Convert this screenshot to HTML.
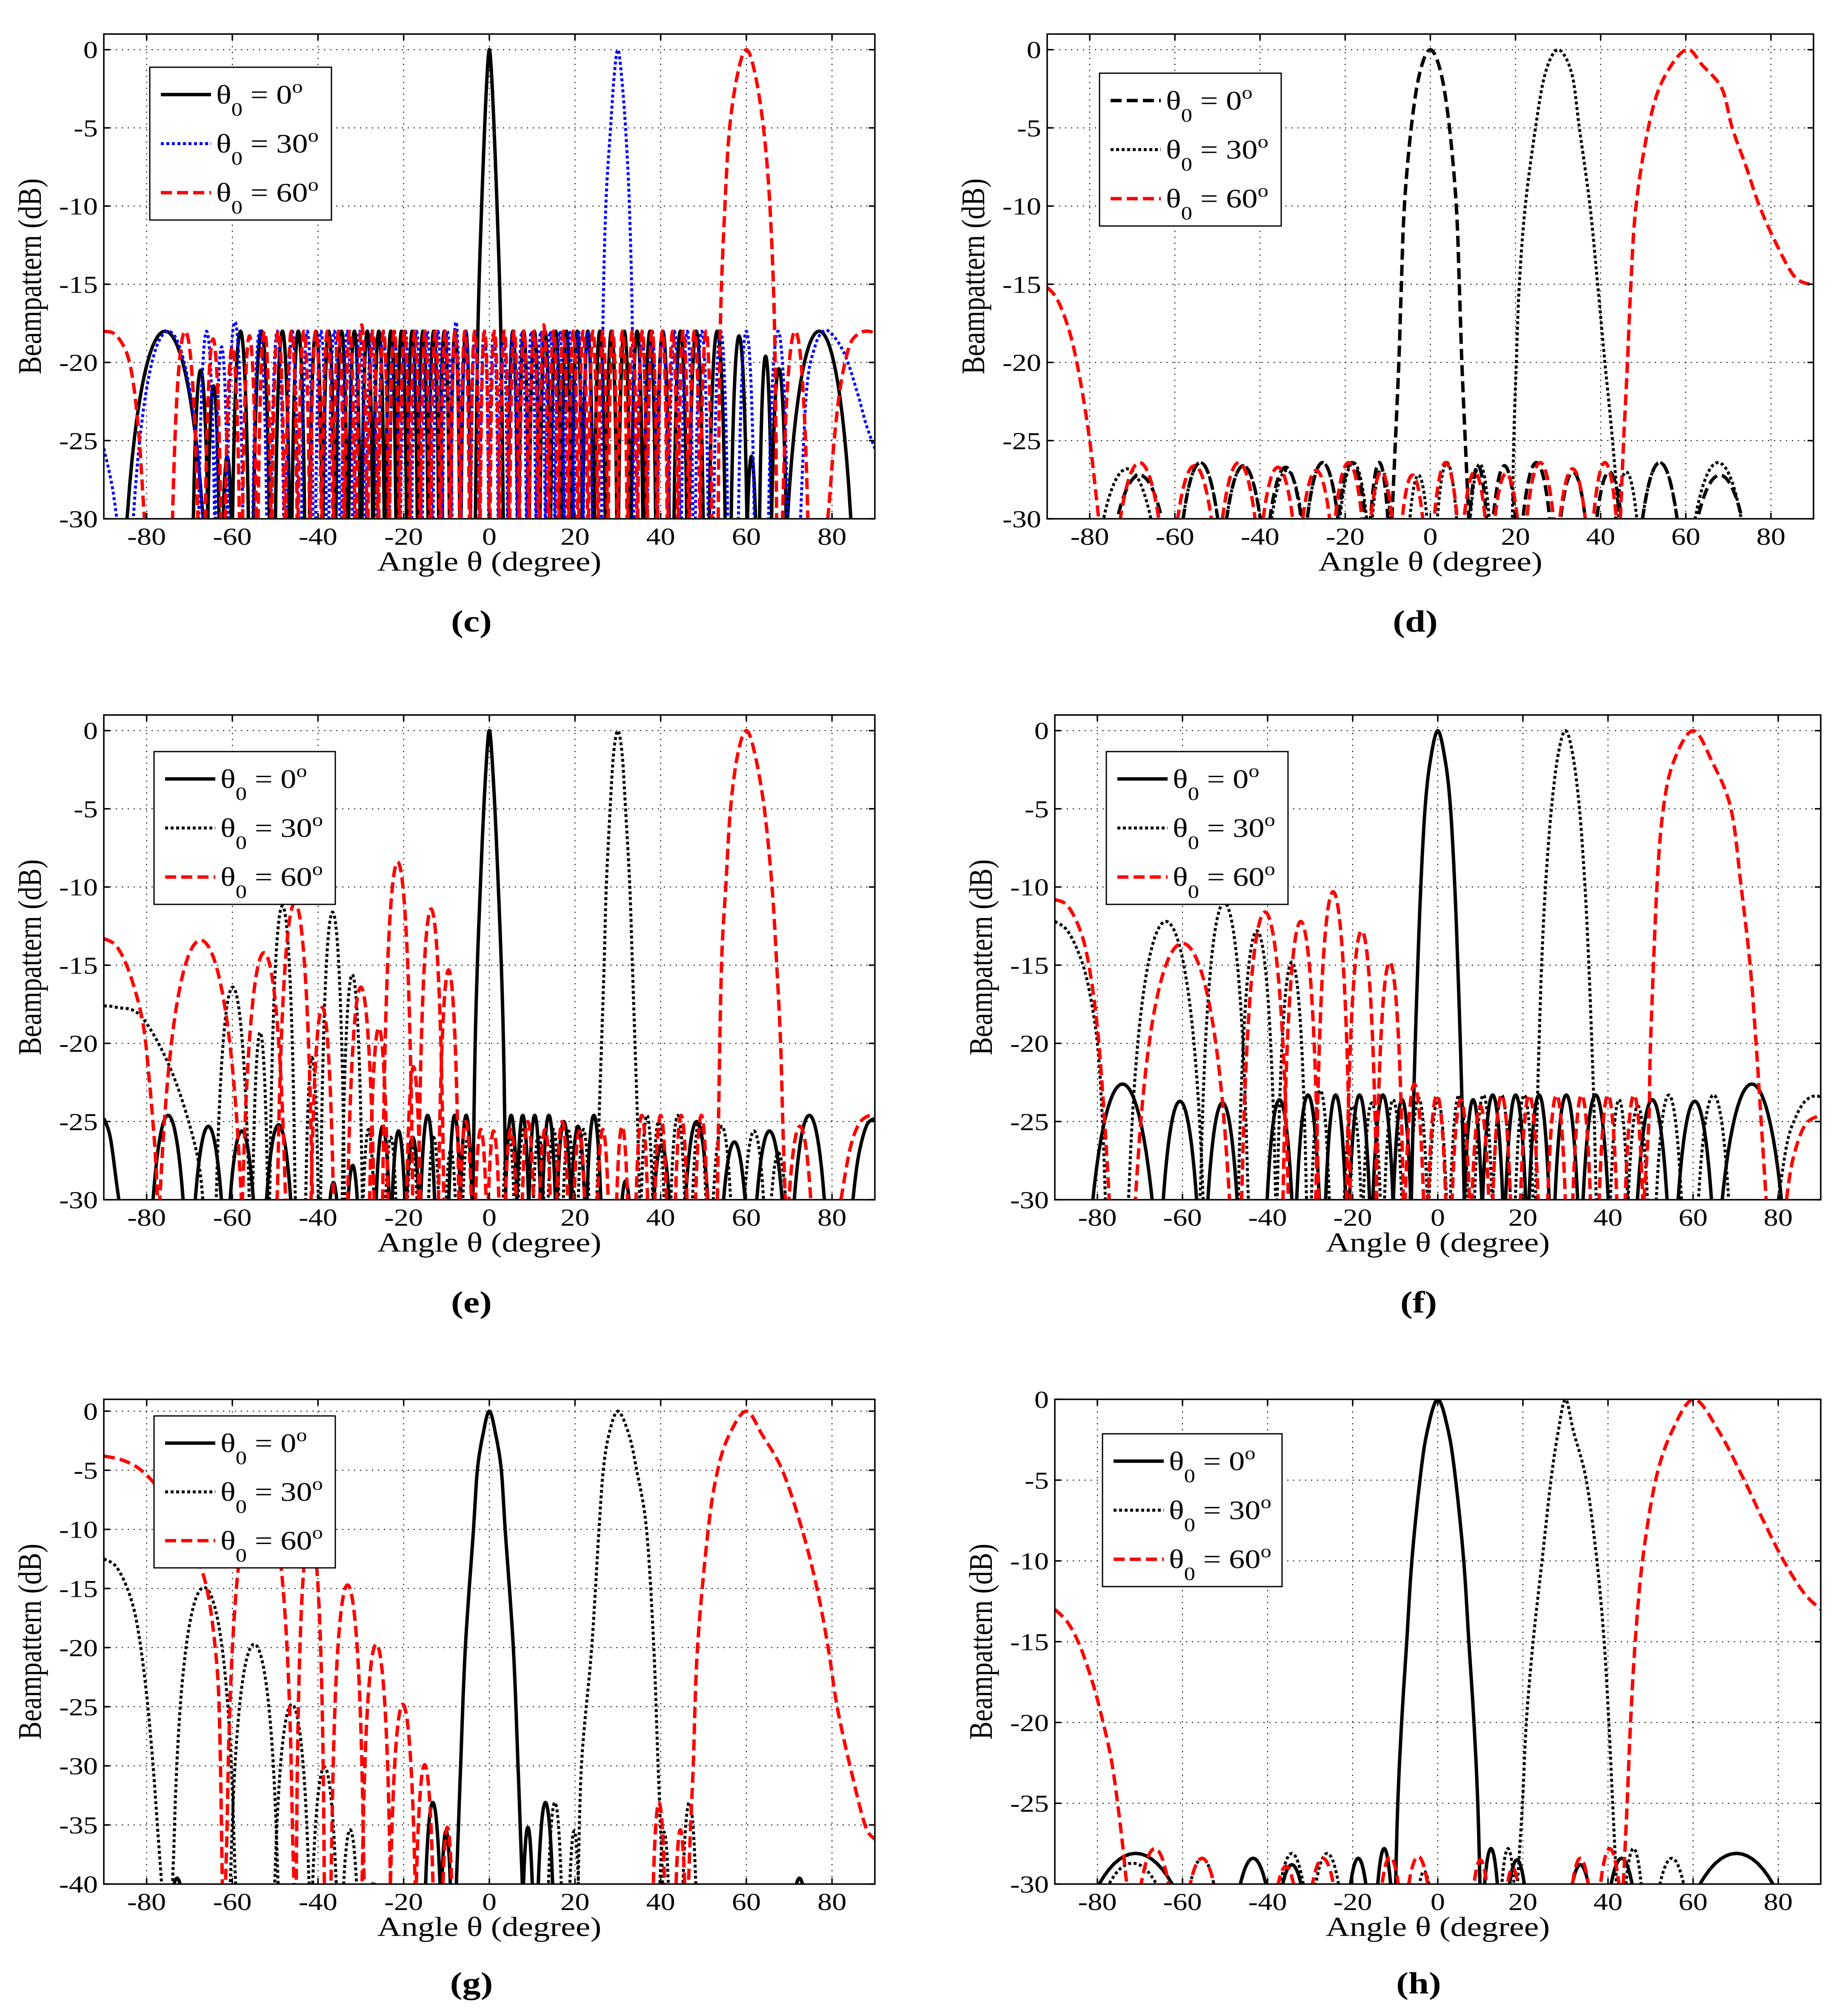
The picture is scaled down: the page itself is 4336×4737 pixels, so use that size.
<!DOCTYPE html>
<html><head><meta charset="utf-8"><title>Beampattern panels</title>
<style>html,body{margin:0;padding:0;background:#fff;width:4336px;height:4737px;overflow:hidden}svg{display:block}text{font-family:"Liberation Serif",serif;fill:#000}</style>
</head><body>
<svg id="fig" xmlns="http://www.w3.org/2000/svg" width="4336" height="4737" viewBox="0 0 4336 4737" font-family="'Liberation Serif', serif">
<rect x="0" y="0" width="4336" height="4737" fill="#fff"/>
</svg>
<script>
// ===== shared axis data =====
const xTicks = [-80,-60,-40,-20,0,20,40,60,80];
const yTicks30 = [0,-5,-10,-15,-20,-25,-30];
const yTicks40 = [0,-5,-10,-15,-20,-25,-30,-35,-40];
const legendAngles = ["0","30","60"];

// ===== panel (c) =====
const c1Ang=[-3.3,-2.8,-2.4,-1.8,-1.1,-0.5,0,0.5,1.1,1.8,2.4,2.8,3.3];
const c1Db=[-31,-20,-15,-10,-5,-1.5,0,-1.5,-5,-10,-15,-20,-31];
const c1At=[-75.7,-67.4,-64.4,-61.2,-58.1,-53.2,-48.3,-44.6,-40.5,-37.5,-34.5,-31.5,-28.5,-25.8,-23,-20.5,-18,-15.5,-13,-10.5,-8,-5.5,5.5,8,10.5,13,15.5,18,20.5,23,25.8,28.5,31.5,34.5,37.5,40.5,44.6,48.3,53.2,58.3,61.2,64.5,67.6,77];
const c1Pk=[-18,-20.5,-21.5,-26,-18,-18,-18,-18,-18,-18,-18,-18,-18,-18,-18,-18,-18,-18,-18,-18,-18,-18,-18,-18,-18,-18,-18,-18,-18,-18,-18,-18,-18,-18,-18,-18,-18,-18,-18,-18.3,-26,-19.6,-20.4,-18];
const c1W=[12,2.5,2,2,2.5,2.5,2.2,2,2,1.8,1.8,1.8,1.7,1.7,1.6,1.6,1.6,1.6,1.6,1.6,1.5,1.5,1.5,1.5,1.6,1.6,1.6,1.6,1.6,1.6,1.7,1.7,1.8,1.8,1.8,2,2,2.2,2.5,2.5,2,2,2.5,10];
const c2Ang=[26.2,26.5,27.2,28.3,29.2,30,30.8,31.8,32.7,33.4,33.7,NaN,-90,-88,-86.5,NaN,72.5,74,76,78,80,83,86,88,90];
const c2Db=[-31,-18,-10,-5,-1.5,0,-1.5,-5,-10,-18,-31,NaN,-25.5,-28,-31,NaN,-31,-22,-19,-18,-18.2,-19.5,-22,-24,-25.5];
const c2At=[-75,-66,-62.5,-59.4,-53.6,-49.5,-46,-42.5,-39.3,-36.2,-33.2,-30.3,-27.5,-24.8,-22.2,-19.6,-17,-14.5,-12,-9.8,-7.8,-5.5,-3.3,-1.2,1,3.2,5.4,7.6,9.8,12,14.2,16.4,18.6,20.8,23,35.6,38,40.5,43.2,46.2,49.6,54,60,67.4];
const c2Pk=[-18,-18,-19,-17.4,-18,-18,-18,-18,-18,-18,-18,-18,-18,-18,-18,-18,-18,-18,-18,-18,-17.4,-18,-18,-18,-18,-18,-18,-18,-18,-18,-18,-18,-18,-18,-18,-18,-18,-18,-18,-18,-18,-18,-18,-18];
const c2W=[11,2.5,2,2.5,2.2,2,1.8,1.8,1.7,1.7,1.7,1.6,1.6,1.6,1.5,1.5,1.5,1.5,1.5,1.5,1.5,1.4,1.4,1.4,1.4,1.4,1.4,1.4,1.4,1.4,1.4,1.4,1.4,1.4,1.4,1.5,1.5,1.6,1.7,1.8,2,2.2,2.5,3];
const c3Ang=[53.4,53.9,55,56.1,58,60,62,64,65.5,66.6,67.1,NaN,-90,-87,-84,-82,-80.5,-79.8,NaN,78,79,80.5,82,84,86,88,90];
const c3Db=[-31,-18,-10,-5,-1.5,0,-1.5,-5,-10,-18,-31,NaN,-18,-18.3,-20,-24,-30,-31,NaN,-31,-30,-25,-21.5,-19,-18.2,-18,-18.1];
const c3At=[-71,-64.5,-60,-56,-52.5,-49.3,-46.2,-43.3,-40.5,-37.8,-35.2,-32.6,-29.8,-27.2,-24.7,-22.2,-19.8,-17.4,-15,-12.6,-10.3,-8,-5.7,-3.4,-1.1,1.2,3.5,5.8,8.1,10.4,12.7,15,17.3,19.6,21.9,24.2,26.5,28.8,31.1,33.4,35.7,38,40.4,42.8,45.3,47.9,50.6,71.4];
const c3Pk=[-18,-18.5,-19,-18.3,-18,-18,-18,-18,-18,-18,-18,-18,-17.6,-18,-18,-18,-18,-18,-18,-18,-18,-18,-18,-18,-18,-18,-18,-18,-18,-18,-17.6,-18,-18,-18,-18,-18,-18,-18,-18,-18,-18,-18,-18,-18,-18,-18,-18,-18];
const c3W=[4,2.5,2.3,2.2,2,2,1.8,1.8,1.7,1.7,1.6,1.6,1.6,1.5,1.5,1.5,1.5,1.5,1.4,1.4,1.4,1.4,1.4,1.4,1.4,1.4,1.4,1.4,1.4,1.4,1.4,1.4,1.4,1.4,1.4,1.4,1.4,1.4,1.4,1.4,1.4,1.5,1.5,1.5,1.6,1.7,1.8,4];

// ===== panel (d) =====
const d1Ang=[-9.2,-8.2,-7.4,-6.8,-6.1,-4.5,-2.5,0,2.5,4.5,6.1,6.8,7.4,8.2,9.2];
const d1Db=[-31,-25,-20,-15,-10,-5,-1.5,0,-1.5,-5,-10,-15,-20,-25,-31];
const d1At=[-68.3,-54,-43.9,-34,-25.3,-18.4,-12,11.2,17.4,24.9,33.5,42,53.9,68];
const d1Pk=[-27.2,-26.4,-26.6,-26.7,-26.4,-26.4,-26.4,-26.6,-26.6,-26.4,-27,-27,-26.4,-27.2];
const d1W=[13,9,9,8.5,8,7,4.5,4.5,6,7,7,7,9,13];
const d2Ang=[19.2,19.6,20.2,20.9,22.3,24.7,27,30,33.2,35,37.5,39.3,41,42.8,44.6];
const d2Db=[-31,-25,-20,-15,-10,-5,-1.5,0,-1.5,-5,-10,-15,-20,-25,-31];
const d2At=[-71.2,-54,-43.9,-33.7,-25.3,-18.1,-11.5,-2.8,3.9,11.6,46,53.9,67.6];
const d2Pk=[-26.8,-26.4,-26.6,-26.9,-26.4,-26.4,-26.8,-27.2,-26.4,-26.5,-27,-26.4,-26.4];
const d2W=[13,9,9,8.5,8,7,5,5,5,5,6,9,12];
const d3Ang=[-90,-88,-86,-84,-82,-80,-78.5,-77.5,NaN,44.1,44.6,45.4,46.3,47.1,48.3,51.2,54.5,60,63.9,68.5,70.9,74.2,77.3,81.4,85.5,89,90];
const d3Db=[-15.2,-15.8,-17,-18.8,-21.5,-25,-28.5,-31,NaN,-31,-30,-25,-20,-15,-10,-5,-2,0,-1,-2.5,-5,-7.5,-10,-12.5,-14.5,-15,-15];
const d3At=[-68.3,-55.4,-45,-35.8,-26.8,-19.2,-11.5,-4.2,3.6,10.4,17.8,25.8,33.4,41];
const d3Pk=[-26.4,-26.6,-26.4,-26.7,-26.9,-26.4,-27,-27.2,-26.4,-27,-27.1,-26.4,-26.8,-26.4];
const d3W=[10,9,8.5,8,7.5,7,6,6,6,6,6.5,7,7,6];

// ===== panel (e) =====
const e1Ang=[-3.9,-3.6,-3.3,-2.8,-2.1,-1.3,-0.5,0,0.5,1.3,2.1,2.8,3.3,3.6,3.9,NaN,-90,-88.5,-87,-86,NaN,84.5,86,88,90];
const e1Db=[-31,-25,-20,-15,-10,-5,-1.2,0,-1.2,-5,-10,-15,-20,-25,-31,NaN,-24.8,-26,-29,-31,NaN,-31,-27.5,-25.3,-24.8];
const e1At=[-75,-65.6,-57.8,-49.2,-36.4,-31.9,-24.9,-21.2,-17.9,-14.4,-8.1,-5.4,5.1,7.8,10.6,13.9,17.4,20.7,24.4,31.8,40.2,48.4,57.2,65.4,74.7];
const e1Pk=[-24.6,-25.3,-25.6,-25.2,-28.9,-27.8,-25.3,-25.6,-26,-24.6,-24.6,-24.6,-24.6,-24.6,-24.6,-24.6,-25,-25.3,-24.6,-28.8,-26.5,-25,-26.3,-25.6,-24.6];
const e1W=[6.5,6,5.5,5.5,3,3,3,3,3,3,2.5,2.5,2.5,2.5,2.5,2.8,3,3,3,3,4,5,5.5,6,6.5];
const e2Ang=[-90,-87,-81.2,-74,-68.3,-66.6,NaN,25,25.6,26.2,26.8,27.3,28.2,29,30,31,31.8,32.8,33.4,34,34.6,35.2];
const e2Db=[-17.6,-17.7,-18.3,-21.9,-27,-31,NaN,-31,-25,-20,-15,-10,-5,-1.5,0,-1.5,-5,-10,-15,-20,-25,-31];
const e2At=[-59.9,-53.5,-48.3,-41.4,-36.6,-32,-28.2,-23,-18,-13,-9,-5,4.5,8,11.5,15,18.5,22,36.8,39.5,44,49,54.3,61.8,67.5];
const e2Pk=[-16.4,-19.3,-11.2,-20.9,-11.6,-15.6,-25.5,-26,-26.5,-26,-26.8,-26,-25.5,-25.5,-25.8,-25.5,-25.6,-25.5,-24.6,-25,-24.6,-25,-25.3,-25.6,-27];
const e2W=[5,2.5,3.5,2.2,3.3,3,2.5,2.5,2.5,2.5,2.5,2.5,2.5,2.5,2.5,2.5,2.5,2.5,2.5,2.5,3,3,4,4.5,4];
const e3Ang=[-90,-87,-84,-81,-79.5,-78,-77.3,NaN,53.2,53.5,54.2,55.2,56.3,58,60,62,64.2,66,67.1,68,68.5,69.2,NaN,81.5,84,86,88,90];
const e3Db=[-13.3,-13.8,-15.5,-18.5,-22,-27,-31,NaN,-31,-25,-15,-10,-5,-1.5,0,-1.5,-5,-10,-15,-20,-25,-31,NaN,-31,-27,-25.3,-24.7,-24.6];
const e3At=[-67.4,-52.6,-45.4,-39,-30,-25.8,-21.4,-17.7,-13.6,-9.5,-5.5,-2,1,5,9,13,17,21,26.5,31,35.6,40,44.8,49.5,72.5];
const e3Pk=[-13.4,-14.2,-11,-17.7,-16.4,-19,-8.4,-21.5,-11.4,-15.3,-25,-25.5,-25.6,-25.5,-25,-25.5,-25,-25.6,-25.5,-25.3,-24.6,-24.6,-24.6,-24.6,-25.3];
const e3W=[11.6,6.2,4.8,3.5,4,3,4,2.5,3.5,3,2.5,2.5,2.5,2.5,2.5,2.5,2.5,2.5,2.5,2.5,2.5,2.5,2.5,2.5,5];

// ===== panel (f) =====
const f1Ang=[-6.3,-5.8,-5.3,-4.7,-4,-3,-1.8,0,1.8,3,4,4.7,5.3,5.8,6.3];
const f1Db=[-31,-25,-20,-15,-10,-5,-2,0,-2,-5,-10,-15,-20,-25,-31];
const f1At=[-74.1,-60.6,-50.6,-37.2,-30.5,-24,-18.4,-12.9,-8.4,8.3,12.9,18.3,23.8,30.2,37.1,50.4,60.4,73.8];
const f1Pk=[-22.6,-23.7,-23.8,-23.6,-23.3,-23.3,-23.3,-23.3,-23.6,-23.6,-23.3,-23.3,-23.3,-23.3,-23.3,-23.6,-23.7,-22.6];
const f1W=[11.3,6.8,6,5,4.5,4,4,4,3.5,3.5,4,4,4,4.5,5,6,6.8,11.3];
const f2Ang=[-90,-87,-84,-82,-80,-78.8,-78,NaN,22.9,23.3,23.8,24.4,25.3,26.7,28.3,30,31.7,33.3,34.6,35.5,36.2,36.8,37.3,NaN,79.5,82,84,86,88,90];
const f2Db=[-12.2,-12.8,-14.5,-16.5,-20,-25,-31,NaN,-31,-25,-20,-15,-10,-5,-1.5,0,-1.5,-5,-10,-15,-20,-25,-31,NaN,-31,-26.5,-24.8,-23.8,-23.4,-23.4];
const f2At=[-63.9,-50.2,-42.5,-34.3,-27.6,-20,-15.5,-10.5,-4.5,0,5,10.7,15,20.3,42.6,47,54.3,64.8];
const f2Pk=[-12.2,-11,-12.8,-14.8,-23,-24,-23.8,-23.6,-23.5,-23.6,-23.3,-23.3,-23.3,-23.3,-23.6,-24,-23.3,-23.3];
const f2W=[10.5,6.6,5.3,4.3,3.5,3.5,3.5,3.5,3.5,3.5,3.5,3.5,3.5,3.5,3.5,4,5,6];
const f3Ang=[-90,-87,-84,-82,-80,-78.3,-77,NaN,48.2,49.6,50,51.5,53,55.4,60,64.5,68.9,71.3,73.4,74.8,76,77.4,NaN,81.5,83,85,87,90];
const f3Db=[-10.8,-11.2,-12.8,-15,-19,-25,-31,NaN,-31,-25,-20,-10,-5,-2,0,-2,-5,-10,-15,-20,-25,-31,NaN,-31,-28,-26,-25,-24.6];
const f3At=[-60,-40.6,-32.2,-24.6,-17.9,-11.3,-5.5,-0.2,5.4,10,15,21.5,27.9,33.8,40,46.1];
const f3Pk=[-13.6,-11.6,-12.2,-10.3,-12.8,-14.8,-22.6,-23.3,-23.6,-24,-23.3,-23.3,-23.3,-23.3,-23.3,-23.3];
const f3W=[13.5,6.5,5,4.7,4.3,4,3.5,3.5,3.5,3.5,3.5,3.5,3.5,3.5,3.5,3.5];

// ===== panel (g) =====
const g1Ang=[-7.8,-7.2,-6.7,-5.6,-3.7,-2.8,-1.5,0,1.5,2.8,3.7,5.6,6.7,7.2,7.8];
const g1Db=[-41,-35,-30,-20,-10,-5,-2,0,-2,-5,-10,-20,-30,-35,-41];
const g1At=[-72.9,-13.2,-10.1,9,13.1,72.4];
const g1Pk=[-39.5,-33.1,-35.5,-35.2,-33.1,-39.5];
const g1W=[4,2.8,2,2,2.8,4];
const g2Ang=[-90,-87,-84,-82,-80,-78.5,-77.5,-76.3,NaN,20.7,21.5,23.9,25.6,26.6,27.9,30,32.6,34.4,36.7,38.4,39.4,40.6];
const g2Db=[-12.5,-13.2,-15.5,-18.5,-24,-30,-35,-41,NaN,-41,-30,-20,-10,-5,-2,0,-2,-5,-10,-20,-30,-41];
const g2At=[-66.6,-54.9,-46.1,-38.5,-32.5,-27,15.3,19.8,40.8,46.7];
const g2Pk=[-14.9,-19.7,-24.8,-30.1,-35.4,-39.8,-33.1,-35.5,-35.6,-33.1];
const g2W=[8,6.4,5,4,3,2,2.5,2,2,2.5];
const g3Ang=[-90,-86,-82,-78,-74,-70,-66.2,-64,-63,-62.3,NaN,46.4,47,47.6,48.6,51.1,53.3,56,60,63.7,68.4,73,76.5,79.1,81.2,84.2,87.7,90];
const g3Db=[-3.8,-4.1,-4.8,-6.2,-8.3,-11,-14.6,-20,-26,-41,NaN,-41,-35,-30,-20,-10,-5,-2,0,-2,-5,-10,-15,-20,-25,-30,-35,-36.2];
const g3At=[-53.6,-41.8,-33.1,-26.4,-20.2,-15.1,-9.8,39.6,44.6];
const g3Pk=[-6,-10,-14.7,-19.7,-24.8,-29.9,-35.2,-33.1,-35.4];
const g3W=[8.2,3.5,4.2,3.8,3.6,2.8,2,2.2,2];

// ===== panel (h) =====
const h1Ang=[-10,-9.4,-8.5,-7.3,-6.1,-4.2,-2.5,0,2.5,4.2,6.1,7.3,8.5,9.4,10];
const h1Db=[-31,-25,-20,-15,-10,-5,-2,0,-2,-5,-10,-15,-20,-25,-31];
const h1At=[-71,-43.4,-34.3,-18.7,-12.6,12.5,18.6,33.5,43.2,70.2];
const h1Pk=[-28.1,-28.4,-28.8,-28.4,-27.8,-27.8,-28.5,-28.8,-28.4,-28.1];
const h1W=[25.6,9.7,8,5.8,4.2,4.2,5.8,7,8,25.6];
const h2Ang=[18.6,19.9,20.8,22.4,24.5,26.6,28.3,30,31.9,34.9,37.4,39.1,40.2,41.1,42.1];
const h2Db=[-30.5,-25,-20,-15,-10,-5,-2,0,-2,-5,-10,-15,-20,-25,-30.5];
const h2At=[-71.7,-55.4,-34.3,-26,-3.2,16.5,46,55];
const h2Pk=[-28.7,-28.4,-28.1,-28.1,-29.2,-27.8,-27.8,-28.4];
const h2W=[20,9,8,8,5,4,5,9];
const h3Ang=[-90,-87,-84.2,-81.4,-79.3,-76.6,-74.5,-73.1,-72.5,NaN,43.3,43.6,44.5,45.3,46.4,48.1,51.2,55,60.2,66.1,72,76.5,81.3,86.1,90];
const h3Db=[-13,-13.8,-15.2,-17.3,-19.3,-22.5,-26.6,-30,-31,NaN,-31,-30,-25,-20,-15,-10,-5,-2,0,-2,-5,-7.5,-10,-12,-13];
const h3At=[-66.5,-55.4,-35.7,-27,-11.2,-4.6,10,17.6,33.5,40.4];
const h3Pk=[-27.8,-28.4,-28.9,-28.4,-28.3,-28.3,-28.5,-29,-28.4,-27.8];
const h3W=[9,9,7,8,6,7,5,5,6,6];

// ===== rendering =====
const NS="http://www.w3.org/2000/svg";
const svg=document.getElementById('fig');
function mk(tag,attrs,parent){const e=document.createElementNS(NS,tag);for(const k in attrs)e.setAttribute(k,attrs[k]);(parent||svg).appendChild(e);return e;}
const STY={
  solid:{stroke:'#000',w:8,dash:''},
  dashedK:{stroke:'#000',w:8,dash:'26 12'},
  dottedK:{stroke:'#000',w:7,dash:'7 6'},
  dottedB:{stroke:'#0000ff',w:7,dash:'7 6'},
  dashedR:{stroke:'#ff0000',w:8,dash:'26 12'}
};
const panels=[
 {id:'c',L:244,R:2056,T:80,B:1219,ymax:1,ymin:-30,yt:yTicks30,lg:[352,158,779,517],cap:[1108,1484],sty:['solid','dottedB','dashedR'],
  ser:[[c1Ang,c1Db,c1At,c1Pk,c1W],[c2Ang,c2Db,c2At,c2Pk,c2W],[c3Ang,c3Db,c3At,c3Pk,c3W]]},
 {id:'d',L:2461,R:4262,T:80,B:1219,ymax:1,ymin:-30,yt:yTicks30,lg:[2584,172,3011,531],cap:[3326,1484],sty:['dashedK','dottedK','dashedR'],
  ser:[[d1Ang,d1Db,d1At,d1Pk,d1W],[d2Ang,d2Db,d2At,d2Pk,d2W],[d3Ang,d3Db,d3At,d3Pk,d3W]]},
 {id:'e',L:244,R:2056,T:1680,B:2819,ymax:1,ymin:-30,yt:yTicks30,lg:[362,1766,788,2125],cap:[1108,3084],sty:['solid','dottedK','dashedR'],
  ser:[[e1Ang,e1Db,e1At,e1Pk,e1W],[e2Ang,e2Db,e2At,e2Pk,e2W],[e3Ang,e3Db,e3At,e3Pk,e3W]]},
 {id:'f',L:2479,R:4279,T:1680,B:2819,ymax:1,ymin:-30,yt:yTicks30,lg:[2600,1766,3027,2125],cap:[3334,3084],sty:['solid','dottedK','dashedR'],
  ser:[[f1Ang,f1Db,f1At,f1Pk,f1W],[f2Ang,f2Db,f2At,f2Pk,f2W],[f3Ang,f3Db,f3At,f3Pk,f3W]]},
 {id:'g',L:244,R:2056,T:3288,B:4427,ymax:1,ymin:-40,yt:yTicks40,lg:[362,3327,788,3684],cap:[1108,4684],sty:['solid','dottedK','dashedR'],
  ser:[[g1Ang,g1Db,g1At,g1Pk,g1W],[g2Ang,g2Db,g2At,g2Pk,g2W],[g3Ang,g3Db,g3At,g3Pk,g3W]]},
 {id:'h',L:2479,R:4279,T:3288,B:4427,ymax:0,ymin:-30,yt:yTicks30,lg:[2591,3369,3013,3728],cap:[3334,4684],sty:['solid','dottedK','dashedR'],
  ser:[[h1Ang,h1Db,h1At,h1Pk,h1W],[h2Ang,h2Db,h2At,h2Pk,h2W],[h3Ang,h3Db,h3At,h3Pk,h3W]]}
];
function sx(p,a){return p.L+(a+90)/180*(p.R-p.L);}
function sy(p,d){return p.T+(p.ymax-d)/(p.ymax-p.ymin)*(p.B-p.T);}
function txt(parent,x,y,str,size,anchor,extra){
  const t=mk('text',{transform:`translate(${x},${y}) scale(1.2,1)`,x:0,y:0,'font-size':size,'text-anchor':anchor||'middle'},parent);
  if(extra)for(const k in extra)t.setAttribute(k,extra[k]);
  t.textContent=str;return t;
}
function segPath(p,ang,db){
  let d='';let seg=[];
  const lo=sy(p,p.ymin-1);
  const flush=()=>{
    if(seg.length<2){seg=[];return;}
    const pts=seg.map(q=>[sx(p,q[0]),sy(p,q[1])]);
    d+='M'+pts[0][0].toFixed(1)+' '+Math.min(lo,pts[0][1]).toFixed(1);
    for(let i=0;i<pts.length-1;i++){
      const p0=pts[Math.max(0,i-1)],p1=pts[i],p2=pts[i+1],p3=pts[Math.min(pts.length-1,i+2)];
      for(let s=1;s<=8;s++){const t=s/8,t2=t*t,t3=t2*t;
        const x=0.5*((2*p1[0])+(-p0[0]+p2[0])*t+(2*p0[0]-5*p1[0]+4*p2[0]-p3[0])*t2+(-p0[0]+3*p1[0]-3*p2[0]+p3[0])*t3);
        let y=0.5*((2*p1[1])+(-p0[1]+p2[1])*t+(2*p0[1]-5*p1[1]+4*p2[1]-p3[1])*t2+(-p0[1]+3*p1[1]-3*p2[1]+p3[1])*t3);
        if(y>lo)y=lo;
        d+=' L'+x.toFixed(1)+' '+y.toFixed(1);}
    }
    seg=[];
  };
  for(let i=0;i<ang.length;i++){ if(isNaN(ang[i])){flush();} else seg.push([ang[i],db[i]]); }
  flush();
  return d;
}
function lobePath(p,at,pk,w){
  let d='';const floor=p.ymin-1;
  for(let k=0;k<=40;k++){const t=-0.985+k*(1.97/40);
    let v=pk+30*Math.log10(Math.cos(Math.PI/2*t));if(v<floor)v=floor;
    let a=at+t*w;if(a<-90.5)a=-90.5;if(a>90.5)a=90.5;
    d+=(k?' L':'M')+sx(p,a).toFixed(1)+' '+sy(p,v).toFixed(1);}
  return d;
}
panels.forEach(p=>{
  const g=mk('g',{});
  
  
  const cp=mk('clipPath',{id:'clip-'+p.id},g);
  mk('rect',{x:p.L,y:p.T,width:p.R-p.L,height:p.B-p.T},cp);
  const grid=mk('g',{stroke:'#000','stroke-width':2,'stroke-dasharray':'3 11',fill:'none'},g);
  
  
  xTicks.forEach(v=>mk('line',{x1:sx(p,v),x2:sx(p,v),y1:p.T,y2:p.B},grid));
  p.yt.forEach(v=>mk('line',{x1:p.L,x2:p.R,y1:sy(p,v),y2:sy(p,v)},grid));
  const plot=mk('g',{'clip-path':`url(#clip-${p.id})`,fill:'none','stroke-linejoin':'round'},g);
  p.ser.forEach((s,si)=>{
    const st=STY[p.sty[si]];
    const sg=mk('g',{stroke:st.stroke,'stroke-width':st.w},plot);
    if(st.dash)sg.setAttribute('stroke-dasharray',st.dash);
    
    
    mk('path',{d:segPath(p,s[0],s[1])},sg);
    for(let i=0;i<s[2].length;i++){mk('path',{d:lobePath(p,s[2][i],s[3][i],s[4][i])},sg);}
  });
  const ax=mk('g',{stroke:'#000','stroke-width':3.5,fill:'none'},g);
  
  
  mk('rect',{x:p.L,y:p.T,width:p.R-p.L,height:p.B-p.T},ax);
  xTicks.forEach(v=>{const x=sx(p,v);mk('line',{x1:x,x2:x,y1:p.B,y2:p.B-14},ax);mk('line',{x1:x,x2:x,y1:p.T,y2:p.T+14},ax);});
  p.yt.forEach(v=>{const y=sy(p,v);mk('line',{x1:p.L,x2:p.L+14,y1:y,y2:y},ax);mk('line',{x1:p.R,x2:p.R-14,y1:y,y2:y},ax);});
  const xl=mk('g',{},g);
  
  
  xTicks.forEach(v=>txt(xl,sx(p,v),p.B+61,String(v),57,'middle'));
  const yl=mk('g',{},g);
  
  
  p.yt.forEach(v=>txt(yl,p.L-14,sy(p,v)+20,String(v),57,'end'));
  const xt=txt(g,(p.L+p.R)/2,p.B+122,'Angle θ (degree)',65,'middle');
  
  
  const yT=mk('text',{transform:`translate(${p.L-148},${(p.T+p.B)/2}) rotate(-90) scale(1,1.2)`,x:0,y:0,'font-size':64,'text-anchor':'middle'},g);
  yT.textContent='Beampattern (dB)';
  
  
  const [lx,ly,rx,by]=p.lg;
  const lg=mk('g',{},g);
  
  
  mk('rect',{x:lx,y:ly,width:rx-lx,height:by-ly,fill:'#fff',stroke:'#000','stroke-width':3},lg);
  const h=by-ly;
  [0.179,0.5,0.821].forEach((f,i)=>{
    const ey=ly+h*f;const st=STY[p.sty[i]];
    const en=mk('g',{},lg);
    
    
    const ln=mk('line',{x1:lx+26,x2:lx+144,y1:ey,y2:ey,stroke:st.stroke,'stroke-width':st.w},en);
    if(st.dash)ln.setAttribute('stroke-dasharray',st.dash);
    const t=mk('text',{transform:`translate(${lx+156},${ey+21}) scale(1.2,1)`,x:0,y:0,'font-size':62},en);
    const a=mk('tspan',{},t);a.textContent='θ';
    const b=mk('tspan',{dy:28,'font-size':44},t);b.textContent='0';
    const c=mk('tspan',{dy:-28},t);c.textContent=' = '+legendAngles[i];
    const dd=mk('tspan',{dy:-26,'font-size':42},t);dd.textContent='o';
  });
  const cap=txt(g,p.cap[0],p.cap[1],'('+p.id+')',72,'middle',{'font-weight':'bold'});
  
  
});
</script>
</body></html>
